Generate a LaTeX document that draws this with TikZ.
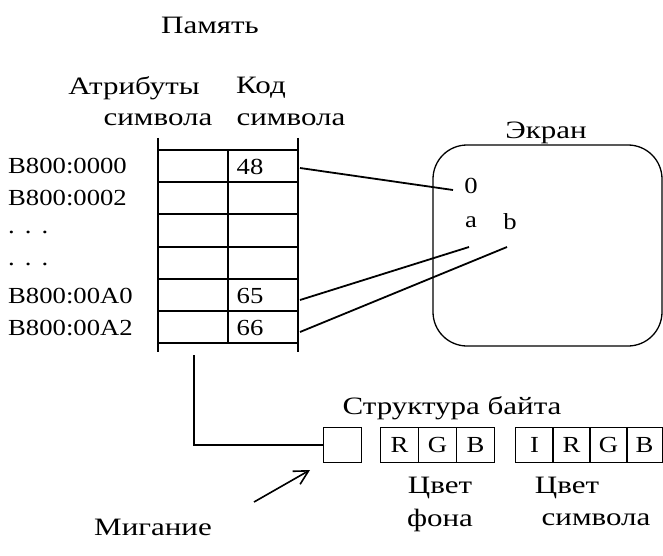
\documentclass[tikz,border=0pt]{standalone}
\usepackage{fontspec}
\setmainfont{Liberation Serif}[FakeStretch=1.16]
\newfontfamily\cyrfont{Liberation Serif}[FakeStretch=1.24]
\usetikzlibrary{arrows.meta}
\begin{document}
\begin{tikzpicture}[x=1pt,y=-1pt,
  txt/.style={inner sep=0pt, font=\fontsize{23}{27}\selectfont},
  ctxt/.style={inner sep=0pt, font=\cyrfont\fontsize{25}{29}\selectfont},
  tbl/.style={line width=1.8pt},
  conn/.style={line width=1.8pt},
  bitbox/.style={draw, line width=1pt, minimum width=38pt, minimum height=35pt, inner sep=0pt, anchor=north west, font=\fontsize{23}{27}\selectfont}
]
\useasboundingbox (0,0) rectangle (663,556);
% titles
\node[ctxt] (mem) at (210,25) {Память};
\node[ctxt] (attr) at (134,88) {Атрибуты};
\node[ctxt] (kod) at (261,88) {Код};
\node[ctxt] (sym1) at (158,120) {символа};
\node[ctxt] (sym2) at (291,120) {символа};
% addresses
\node[txt, anchor=west] (a1) at (8,166) {B800:0000};
\node[txt, anchor=west] (a2) at (8,198) {B800:0002};
\node[txt, anchor=west] (d1) at (8,232) {.\hspace{10pt}.\hspace{10pt}.};
\node[txt, anchor=west] (d2) at (8,264) {.\hspace{10pt}.\hspace{10pt}.};
\node[txt, anchor=west] (a5) at (8,296) {B800:00A0};
\node[txt, anchor=west] (a6) at (8,328) {B800:00A2};
% table
\draw[tbl] (158,138) -- (158,352);
\draw[tbl] (298,138) -- (298,352);
\draw[tbl] (228,150) -- (228,343);
\foreach \yy in {150,182,214,247,279,311,343} \draw[tbl] (158,\yy) -- (298,\yy);
\node[txt] (c48) at (250,167) {48};
\node[txt] (c65) at (250,296) {65};
\node[txt] (c66) at (250,328) {66};
\coordinate (t48) at (300,168);
\coordinate (t65) at (300,300);
\coordinate (t66) at (300,332);
% screen
\node[ctxt] (ekran) at (546,133) {Экран};
\draw[line width=1.3pt, rounded corners=34pt] (433,145) rectangle (662,346);
\node[txt] (zero) at (471,186) {0};
\node[txt] (sa) at (471,222) {a};
\node[txt] (sb) at (510,222) {b};
\coordinate (e0) at (453,190);
\coordinate (ea) at (469,247);
\coordinate (eb) at (507,247);
\draw[conn] (t48) -- (e0);
\draw[conn] (t65) -- (ea);
\draw[conn] (t66) -- (eb);
% byte structure
\node[ctxt] (struct) at (452,408) {Структура байта};
\node[bitbox] (blink) at (323,427) {};
\node[bitbox] (r1) at (380,427) {R};
\node[bitbox] (g1) at (418,427) {G};
\node[bitbox] (b1) at (456,427) {B};
\node[bitbox] (i2) at (515,427) {I};
\node[bitbox] (r2) at (552,427) {R};
\node[bitbox] (g2) at (589,427) {G};
\node[bitbox, minimum width=36pt] (b2) at (626,427) {B};
\coordinate (tb) at (194,355);
\draw[conn] (tb) |- (blink.west);
% labels
\node[ctxt] (cv1) at (440,488) {Цвет};
\node[ctxt] (fon) at (440,520) {фона};
\node[ctxt] (cv2) at (567,488) {Цвет};
\node[ctxt] (sym3) at (596,520) {символа};
\node[ctxt] (mig) at (153,527) {Мигание};
\coordinate (arrs) at (254,502);
\coordinate (arre) at (310,470);
\draw[line width=1.6pt, -{Straight Barb[length=14pt,width=15pt,line width=1.6pt]}] (arrs) -- (arre);
\end{tikzpicture}
\end{document}
